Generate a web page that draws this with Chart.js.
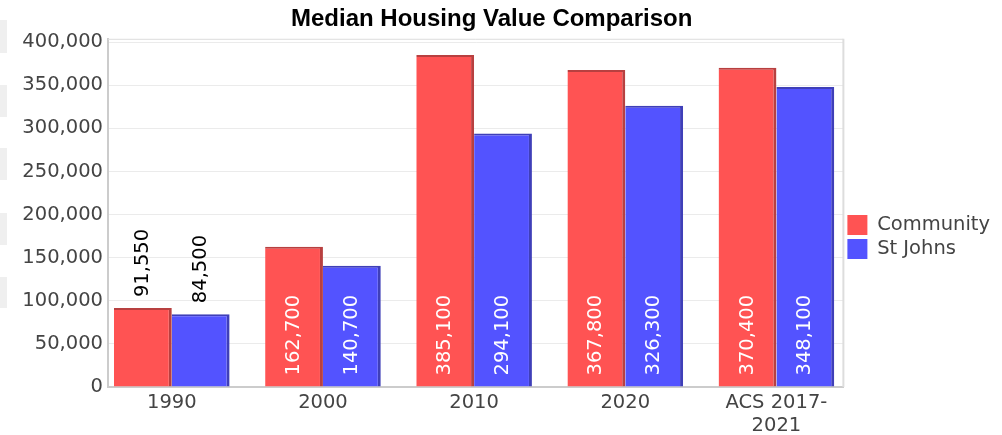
<!DOCTYPE html>
<html><head><meta charset="utf-8">
<script src="https://cdn.jsdelivr.net/npm/chart.js@4.4.0/dist/chart.umd.min.js"></script>
<style>html,body{margin:0;padding:0;background:#fff;} canvas{display:block;}</style>
</head><body>
<canvas id="c" width="1002" height="435"></canvas>
<script>
const categories = ['1990', '2000', '2010', '2020', 'ACS 2017-2021'];
const categoryLabels = ['1990', '2000', '2010', '2020', ['ACS 2017-', '2021']];
const seriesNames = ['Community', 'St Johns'];
const communityValues = [91550, 162700, 385100, 367800, 370400];
const stJohnsValues = [84500, 140700, 294100, 326300, 348100];
const yTickValues = [0, 50000, 100000, 150000, 200000, 250000, 300000, 350000, 400000];

const fmt = v => v.toLocaleString('en-US');

Chart.defaults.font.family = "'DejaVu Sans', sans-serif";
Chart.defaults.font.size = 19.5;
Chart.defaults.color = '#444';

const sideBlocks = {
  id: 'sideBlocks',
  beforeDraw(chart) {
    const ctx = chart.ctx;
    ctx.save();
    ctx.fillStyle = '#fff';
    ctx.fillRect(0, 0, chart.width, chart.height);
    ctx.fillStyle = '#efefef';
    [[20, 33], [85, 32], [148, 32], [213, 32], [277, 31]].forEach(([y, h]) => ctx.fillRect(0, y, 7, h));
    ctx.restore();
  }
};

const plotFrame = {
  id: 'plotFrame',
  beforeDatasetsDraw(chart) {
    const {ctx, chartArea: a} = chart;
    ctx.save();
    ctx.strokeStyle = '#dddddd';
    ctx.lineWidth = 1;
    ctx.beginPath();
    ctx.moveTo(a.left, a.top + 0.5);
    ctx.lineTo(a.right, a.top + 0.5);
    ctx.stroke();
    ctx.lineWidth = 2;
    ctx.beginPath();
    ctx.moveTo(a.right, a.top);
    ctx.lineTo(a.right, a.bottom);
    ctx.stroke();
    ctx.restore();
  }
};

const valueLabels = {
  id: 'valueLabels',
  afterDatasetsDraw(chart) {
    const ctx = chart.ctx;
    ctx.save();
    ctx.font = "19.5px 'DejaVu Sans'";
    ctx.textBaseline = 'middle';
    ctx.textAlign = 'left';
    chart.data.datasets.forEach((ds, di) => {
      const meta = chart.getDatasetMeta(di);
      meta.data.forEach((bar, i) => {
        const txt = fmt(ds.data[i].y);
        const w = ctx.measureText(txt).width;
        const h = bar.base - bar.y;
        ctx.save();
        if (h > w + 22) {
          ctx.translate(bar.x, bar.base - 11);
          ctx.fillStyle = '#ffffff';
        } else {
          ctx.translate(bar.x, bar.y - 11);
          ctx.fillStyle = '#000000';
        }
        ctx.rotate(-Math.PI / 2);
        ctx.fillText(txt, 0, 0);
        ctx.restore();
      });
    });
    ctx.restore();
  }
};

const toPoints = arr => arr.map((v, i) => ({x: i, y: v}));

new Chart(document.getElementById('c'), {
  type: 'bar',
  data: {
    datasets: [
      {
        label: seriesNames[0],
        data: toPoints(communityValues),
        backgroundColor: '#ff5353',
        borderColor: '#b84040',
        borderWidth: {top: 2, right: 3, bottom: 0, left: 0},
        borderSkipped: false
      },
      {
        label: seriesNames[1],
        data: toPoints(stJohnsValues),
        backgroundColor: '#5353ff',
        borderColor: '#3f3fb8',
        borderWidth: {top: 2, right: 3, bottom: 0, left: 0},
        borderSkipped: false
      }
    ]
  },
  options: {
    responsive: false,
    animation: false,
    categoryPercentage: 0.765,
    barPercentage: 1,
    layout: {padding: {left: 0, right: 2, top: 0, bottom: 0}},
    scales: {
      x: {
        type: 'linear',
        offset: false,
        min: -0.422,
        max: 4.443,
        grid: {display: false, drawTicks: false, offset: false},
        border: {display: true, color: '#cccccc', width: 2},
        afterBuildTicks: s => { s.ticks = categories.map((c, i) => ({value: i})); },
        afterFit: s => { s.height = 48; },
        ticks: {
          autoSkip: false,
          maxRotation: 0,
          padding: 4,
          color: '#444',
          callback: (v, i) => categoryLabels[i]
        }
      },
      y: {
        type: 'linear',
        min: 0,
        max: 404000,
        grid: {color: '#ebebeb', drawTicks: false},
        border: {display: true, color: '#cccccc', width: 2},
        afterBuildTicks: s => { s.ticks = yTickValues.map(v => ({value: v})); },
        afterFit: s => { s.width = 108; },
        ticks: {
          padding: 5,
          color: '#444',
          callback: v => fmt(v)
        }
      }
    },
    plugins: {
      tooltip: {enabled: false},
      title: {
        display: true,
        text: 'Median Housing Value Comparison',
        color: '#000',
        align: 'start',
        font: {family: "'Liberation Sans', Arial, sans-serif", size: 24, weight: 'bold'},
        padding: {top: 5, bottom: 5}
      },
      legend: {
        position: 'right',
        align: 'center',
        title: {display: true, text: '', font: {size: 30}, padding: {top: 0, bottom: 3}},
        labels: {
          boxWidth: 20,
          boxHeight: 20,
          padding: 4,
          color: '#444',
          font: {size: 19.5},
          generateLabels: chart => Chart.defaults.plugins.legend.labels.generateLabels(chart)
            .map(l => Object.assign(l, {lineWidth: 0, strokeStyle: 'rgba(0,0,0,0)'}))
        }
      }
    }
  },
  plugins: [sideBlocks, plotFrame, valueLabels,
    {
      id: 'titleShift',
      afterLayout(chart) {
        const t = chart.titleBlock;
        if (t) { t.left = 291; }
      }
    }]
});
</script>
</body></html>
